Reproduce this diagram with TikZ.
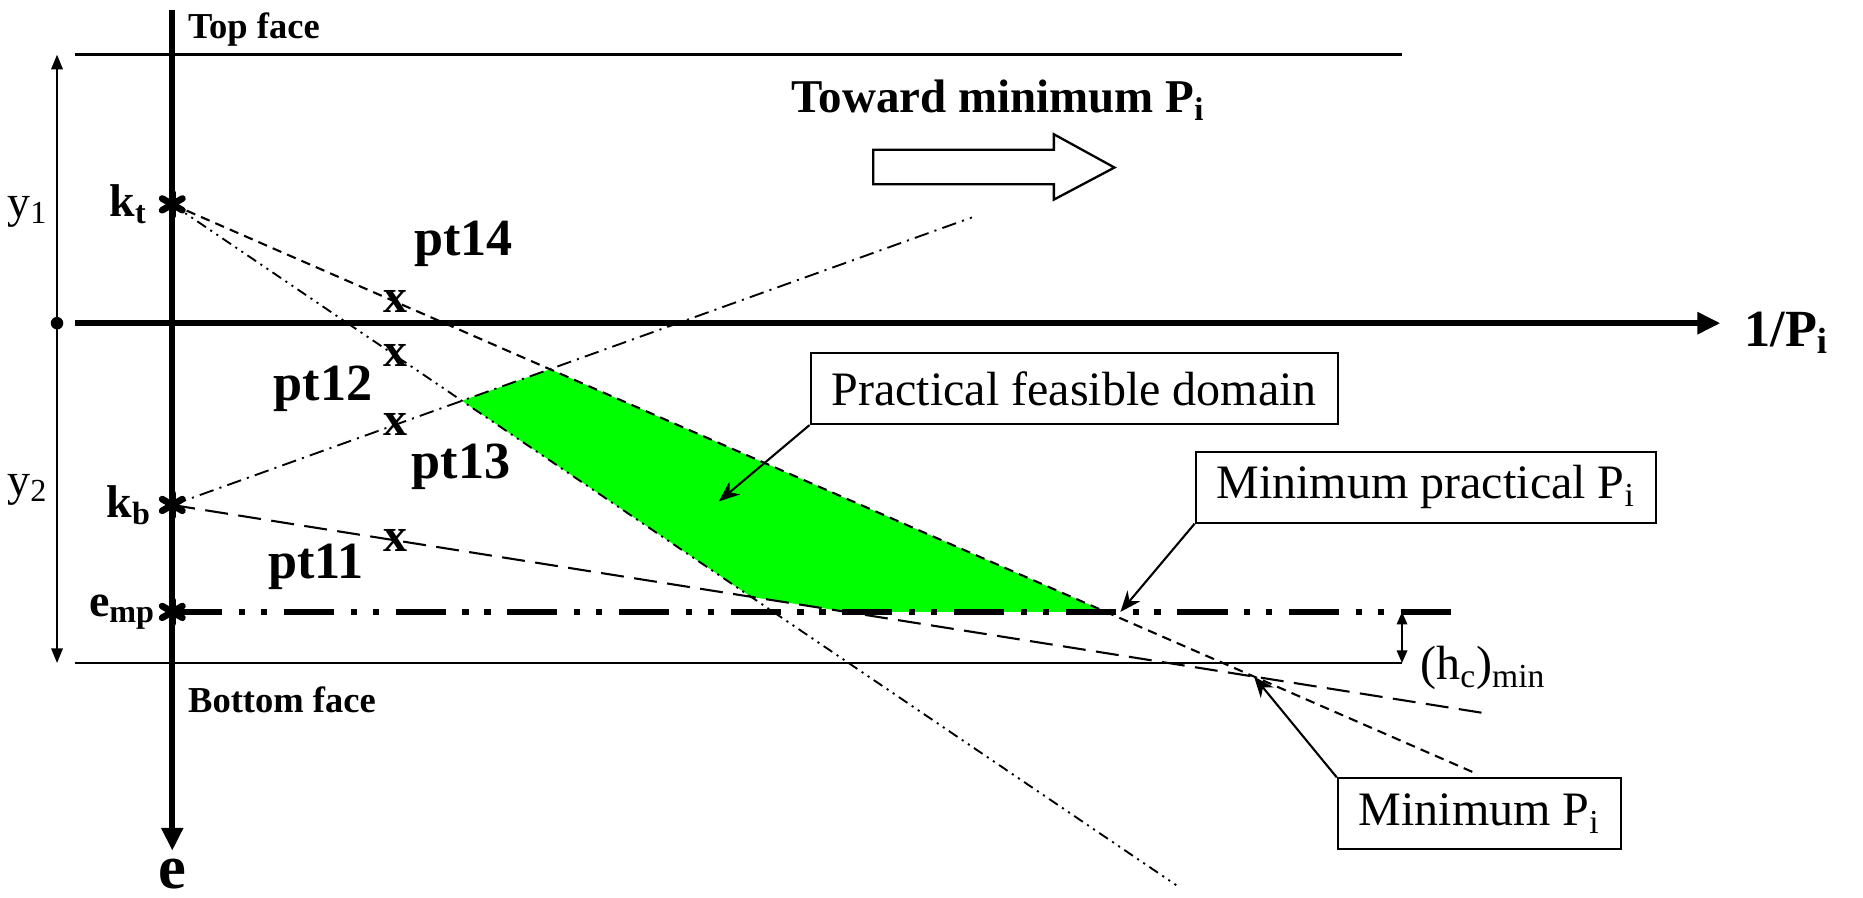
\documentclass[tikz,border=0pt]{standalone}
\usepackage{fontspec}
\setmainfont{Liberation Serif}
\usetikzlibrary{arrows.meta,calc,positioning}

% six-lobed mark on the e axis
\newcommand{\astmark}[1]{%
  \foreach \a in {30,90,150}
    \draw[line width=3.2pt, line cap=round] ($(#1)+(\a:5.6pt)$) -- ($(#1)+(\a+180:5.6pt)$);}

\begin{document}
\begin{tikzpicture}[x=0.02cm, y=-0.02cm]
    \tikzset{axis/.style={line width=2.8pt, -{Triangle[length=11pt,width=10pt]}},
             face/.style={line width=1.4pt},
             dimarr/.style={line width=0.9pt, -{Triangle[length=7pt,width=5.5pt]}},
             shortdash/.style={line width=1pt, dash pattern=on 4.5pt off 3pt},
             longdash/.style={line width=1pt, dash pattern=on 11pt off 5pt},
             dashdot/.style={line width=0.9pt, dash pattern=on 7pt off 3pt on 1pt off 3pt},
             dashdotdot/.style={line width=0.9pt, dash pattern=on 5pt off 2.5pt on 1pt off 2.5pt on 1pt off 2.5pt},
             mpline/.style={line width=2.8pt, dash pattern=on 24pt off 8pt on 3pt off 7.5pt on 3pt off 8pt},
             xmk/.style={font=\fontsize{23}{23}\selectfont\bfseries, inner sep=0pt},
             ptlbl/.style={font=\fontsize{25}{27}\selectfont\bfseries},
             klbl/.style={font=\fontsize{22}{24}\selectfont\bfseries, inner sep=0pt},
             facelbl/.style={font=\fontsize{17.5}{19}\selectfont\bfseries, anchor=west, inner sep=0pt},
             ylbl/.style={font=\fontsize{22}{24}\selectfont, inner sep=0pt},
             box/.style={draw, line width=1pt, fill=white, inner xsep=10pt, minimum height=34pt,
                         font=\fontsize{23}{25}\selectfont},
             callout/.style={line width=1pt, -{Stealth[length=10pt,width=8pt]}},
             feasible/.style={fill={rgb,255:red,0;green,255;blue,0}}}
    \useasboundingbox (0,0) rectangle (1568,755);

    % points on the e axis and far ends of the lines
    \coordinate (kt) at (145,172);
    \coordinate (kb) at (145,425);
    \coordinate (emp) at (145,515);
    \coordinate (t1) at (1240,650);
    \coordinate (t2) at (990,745);
    \coordinate (t3) at (818,183);
    \coordinate (t4) at (1248,600);
    \coordinate (mpend) at (1235,515);

    % feasible region
    \fill[feasible] (intersection of kt--t2 and kb--t3) -- (intersection of kt--t1 and kb--t3)
        -- (intersection of kt--t1 and emp--mpend) -- (intersection of kb--t4 and emp--mpend)
        -- (intersection of kt--t2 and kb--t4) -- cycle;

    % faces and axes
    \coordinate (tfl) at (63,46);  \coordinate (tfr) at (1180,46);
    \coordinate (bfl) at (63,558); \coordinate (bfr) at (1180,558);
    \draw[face] (tfl) -- (tfr);
    \draw[face] (bfl) -- (bfr);
    \coordinate (etop) at (145,8);  \coordinate (ebot) at (145,716);
    \coordinate (hl) at (63,272);   \coordinate (hr) at (1448,272);
    \draw[axis] (etop) -- (ebot);
    \draw[axis] (hl) -- (hr);
    \node[font=\fontsize{30}{30}\selectfont\bfseries, inner sep=0pt] (elbl) at (145,736) {e};
    \node[font=\fontsize{25}{27}\selectfont\bfseries, anchor=west] (plbl) at (1462,280) {1/P\textsubscript{i}};
    \node[facelbl] (top) at (158,25) {Top face};
    \node[facelbl] (bot) at (158,589) {Bottom face};

    % y1 and y2
    \coordinate (ydot) at (48,272);
    \coordinate (ytop) at (48,46); \coordinate (ybot) at (48,558);
    \draw[dimarr] (ydot) -- (ytop);
    \draw[dimarr] (ydot) -- (ybot);
    \fill (ydot) circle[radius=3pt];
    \node[ylbl] (y1) at (23,178) {y\textsubscript{1}};
    \node[ylbl] (y2) at (23,412) {y\textsubscript{2}};

    % the four lines
    \draw[shortdash] (kt) -- node[pos=0.1717, xmk] (x14) {x} (t1);
    \draw[dashdotdot] (kt) -- node[pos=0.2225, xmk] (x12) {x} (t2);
    \draw[dashdot] (kb) -- node[pos=0.2793, xmk] (x13) {x} (t3);
    \draw[longdash] (kb) -- node[pos=0.1704, xmk] (x11) {x} (t4);
    \draw[mpline] (emp) -- (mpend);

    \node[ptlbl] (pt14) at (390,205) {pt14};
    \node[ptlbl] (pt12) at (272,327) {pt12};
    \node[ptlbl] (pt13) at (388,393) {pt13};
    \node[ptlbl] (pt11) at (266,477) {pt11};

    \astmark{kt} \astmark{kb} \astmark{emp}
    \node[klbl, left=12pt of kt] (ktl) {k\textsubscript{t}};
    \node[klbl, left=10pt of kb] (kbl) {k\textsubscript{b}};
    \node[klbl, left=8pt of emp] (empl) {e\textsubscript{mp}};

    % minimum cover
    \coordinate (hctop) at (1180,515); \coordinate (hcbot) at (1180,558);
    \draw[line width=0.9pt, {Triangle[length=6pt,width=5pt]}-{Triangle[length=6pt,width=5pt]}] (hctop) -- (hcbot);
    \node[font=\fontsize{23}{25}\selectfont, anchor=west, inner sep=0pt] (hc) at (1195,562) {(h\textsubscript{c})\textsubscript{min}};

    % direction of smaller prestress
    \node[font=\fontsize{22.5}{24}\selectfont\bfseries] (toward) at (840,84) {Toward minimum P\textsubscript{i}};
    \draw[line width=1.1pt] (735,126) -- (887,126) -- (887,113) -- (938,141) -- (887,168) -- (887,155) -- (735,155) -- cycle;

    % callouts
    \node[box] (pfd) at (904,327) {Practical feasible domain};
    \node[box] (mpp) at (1200,410) {Minimum practical P\textsubscript{i}};
    \node[box] (mp) at (1245,685) {Minimum P\textsubscript{i}};
    \coordinate (pfdtip) at (605,422);
    \coordinate (mpptip) at (943,515);
    \coordinate (mptip) at (intersection of kt--t1 and kb--t4);
    \draw[callout] (pfd.south west) -- (pfdtip);
    \draw[callout] (mpp.south west) -- (mpptip);
    \draw[callout] (mp.north west) -- (mptip);
\end{tikzpicture}
\end{document}
